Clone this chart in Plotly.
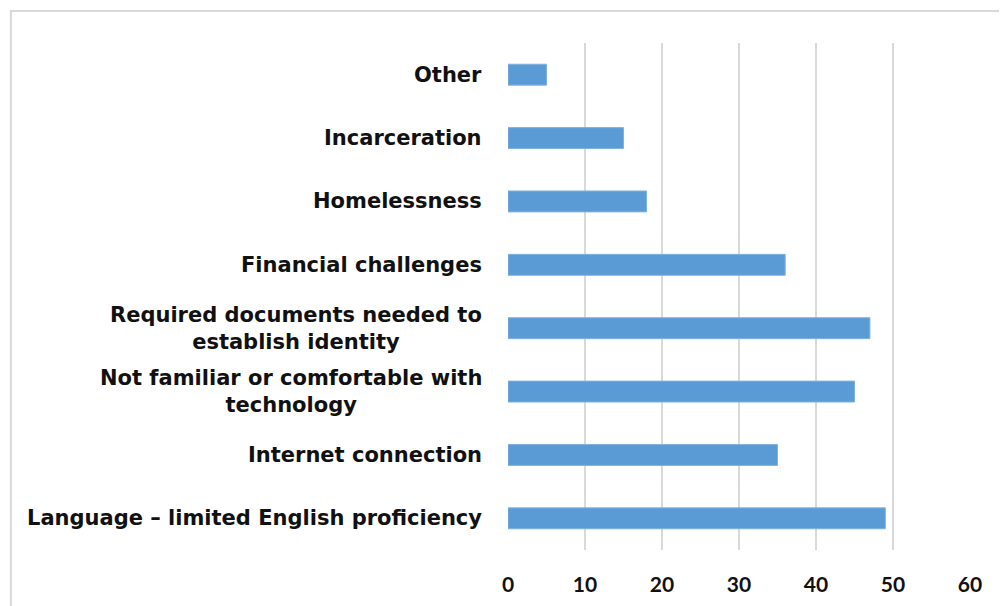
import plotly.graph_objects as go

categories = [
    "Language – limited English proficiency",
    "Internet connection",
    "Not familiar or comfortable with<br>technology",
    "Required documents needed to<br>establish identity",
    "Financial challenges",
    "Homelessness",
    "Incarceration",
    "Other",
]
values = [49, 35, 45, 47, 36, 18, 15, 5]
x_ticks = [0, 10, 20, 30, 40, 50, 60]

fig = go.Figure()
fig.add_trace(go.Bar(
    x=values, y=categories, orientation="h",
    marker=dict(color="#5B9BD5", line=dict(color="#7FB2E0", width=1)),
    width=0.33, hoverinfo="x+y",
))

annotations = []
for c in categories:
    annotations.append(dict(
        x=0, xref="paper", y=c, yref="y", xshift=-24,
        xanchor="right", yanchor="middle", align="center",
        text=c, showarrow=False,
        font=dict(family="DejaVu Sans", size=21, color="#111111", weight="bold"),
    ))

fig.update_layout(
    width=1007, height=606,
    margin=dict(l=500, r=45, t=35, b=64),
    paper_bgcolor="white", plot_bgcolor="white",
    showlegend=False,
    annotations=annotations,
    xaxis=dict(
        range=[0, 60], tickvals=x_ticks, showgrid=True,
        gridcolor="#D9D9D9", gridwidth=1.5, zeroline=False,
        showline=False, ticks="", ticklabelstandoff=20,
        tickfont=dict(family="Lato", size=21, color="#111111", weight="bold"),
    ),
    yaxis=dict(
        categoryorder="array", categoryarray=categories,
        showticklabels=False, showgrid=False, zeroline=False, showline=False,
    ),
    shapes=[dict(
        type="rect", xref="paper", yref="paper",
        x0=-1.076, x1=1.5, y0=-0.5, y1=1.063,
        line=dict(color="#D9D9D9", width=2), layer="below",
    )],
)

fig.write_html("out.html")
